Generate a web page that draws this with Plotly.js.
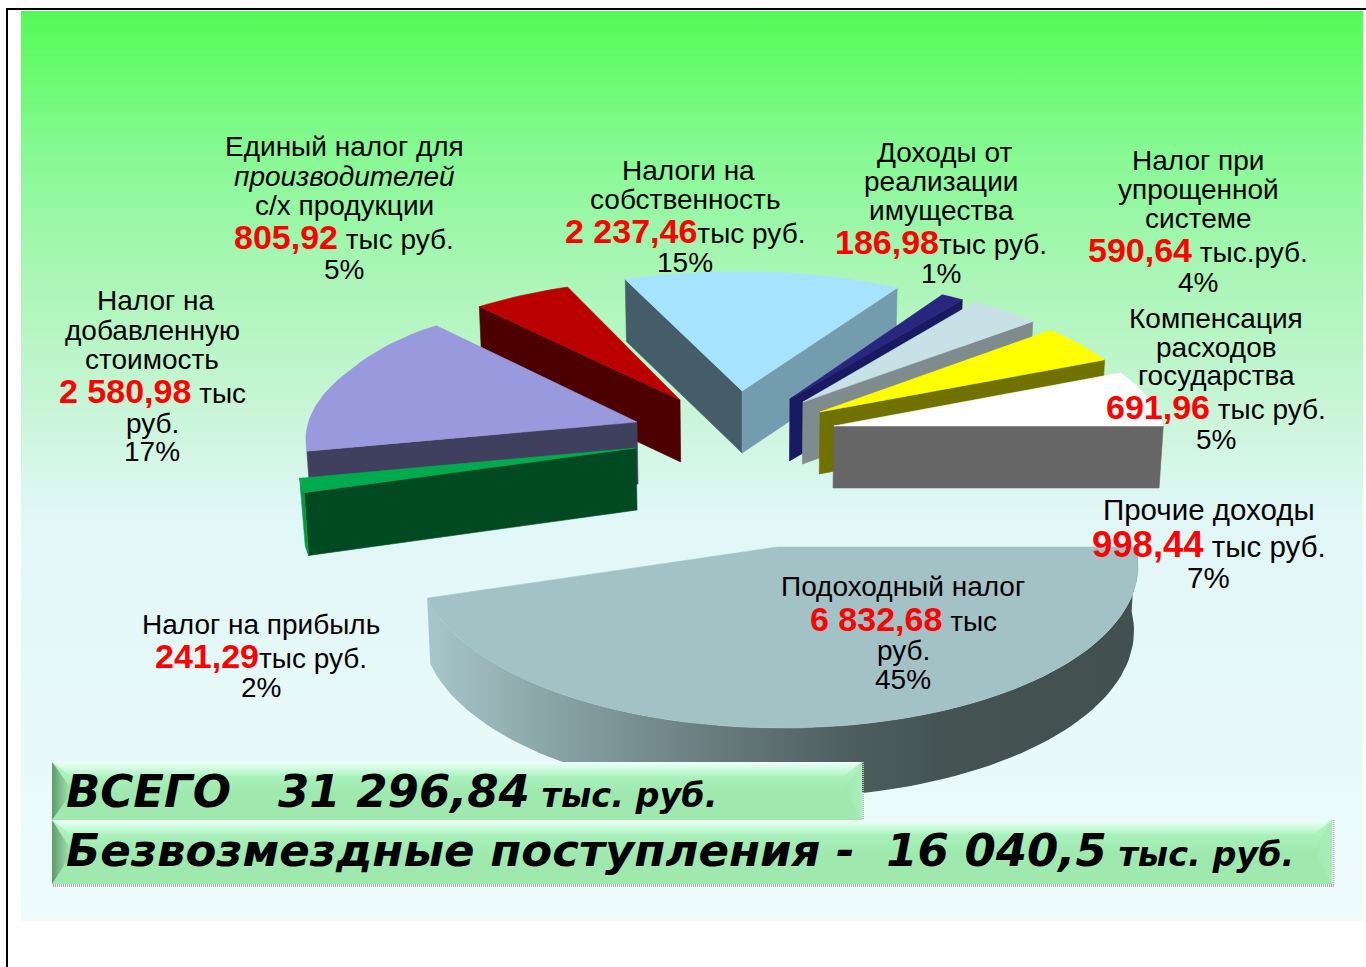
<!DOCTYPE html>
<html><head><meta charset="utf-8">
<script src="https://cdn.plot.ly/plotly-3.0.1.min.js"></script>
<style>html,body{margin:0;padding:0;background:#fff;overflow:hidden}#c{width:1366px;height:967px}</style>
</head><body><div id="c"></div>
<script>
// ---- data (thousand roubles), in pie order ----
const categories = ["Подоходный налог","Налог на прибыль","Налог на добавленную стоимость","Единый налог для производителей с/х продукции","Налоги на собственность","Доходы от реализации имущества","Налог при упрощенной системе","Компенсация расходов государства","Прочие доходы"];
const values = [6832.68,241.29,2580.98,805.92,2237.46,186.98,590.64,691.96,998.44];
const totalLine = "31 296,84";
const grantsLine = "16 040,5";

// ---- styles per slice ----
const topColors  = ["#A3C2C6","#00AB50","#9999DD","#BB0000","#A6E3FF","#27277F","#C8E1E6","#FFFF00","#FFFFFF"];
const startWall  = [null,"#004A22","#3F3F5E","#4D0000","#455D69",null,null,null,null];
const endWall    = [null,null,null,null,"#739CAE","#1A1A60","#7F8C8E","#717100","#666666"];
const rimWall    = [true,true,false,false,false,false,false,false,false];
const rimColors  = [null,"#00994A"];
const pullX      = [0.092,-0.326,-0.329,-0.201,-0.009,0.139,0.179,0.230,0.270];
const pullY      = [0.549,-0.105,-0.292,-0.456,-0.524,-0.463,-0.440,-0.366,-0.263];
const drawOrder  = [4,3,2,1,5,6,7,8,0];
// ---- projection ----
const CX=745, CY=463, AX=338, BY=144.6, K=0.1, WALL=62;
function proj(X,Y){
  const s=1/(1-K*Y);
  const skew=8*Math.max(0,Math.min(1,(-Y-0.7)/0.3))*Math.max(0,Math.min(1,-X/0.3));
  const p=[CX+AX*X*s-skew,CY+BY*Y*s];p.s=s;return p;
}
function low(p){return [CX+(p[0]-CX)*0.99,p[1]+WALL*(1+0.65*Math.max(0,(p.s||1)-1))];}

const traces=[];
function poly(pts,color,grad){
  const t={type:'scatter',mode:'lines',x:pts.map(p=>p[0]).concat([pts[0][0]]),y:pts.map(p=>p[1]).concat([pts[0][1]]),
    fill:'toself',fillcolor:color||'rgba(0,0,0,0)',line:{width:grad?0:0.6,color:color||'rgba(0,0,0,0)'},hoverinfo:'skip',showlegend:false};
  if(grad)t.fillgradient=grad;
  traces.push(t);
}
// ---- page background ----
poly([[21,11],[1363,11],[1363,921],[21,921]],null,{type:'vertical',start:11,stop:921,
  colorscale:[[0,'#52FA58'],[0.06,'#68FB6C'],[0.15,'#85F992'],[0.29,'#AAF6B6'],[0.42,'#C5F5D2'],[0.55,'#E0F7F6'],[1,'#EFFBFC']]});

// ---- pie ----
const total=values.reduce((a,b)=>a+b,0);
const starts=[];let acc=0;values.forEach(v=>{starts.push(acc/total*360);acc+=v;});
function arc(i){
  const a0=starts[i],a1=a0+values[i]/total*360,n=Math.max(2,Math.ceil((a1-a0)/2)),pts=[];
  for(let j=0;j<=n;j++){const a=(a0+(a1-a0)*j/n)*Math.PI/180;pts.push(proj(pullX[i]+Math.cos(a),pullY[i]+Math.sin(a)));}
  return pts;
}
drawOrder.forEach(i=>{
  const rim=arc(i),apex=proj(pullX[i],pullY[i]);
  const first=rim[0],last=rim[rim.length-1];
  if(startWall[i])poly([apex,first,low(first),low(apex)],startWall[i]);
  if(endWall[i])poly([apex,last,low(last),low(apex)],endWall[i]);
  if(rimWall[i]){
    const lows=rim.map(low).reverse();
    if(i===0)poly(rim.concat(lows),null,{type:'horizontal',start:425,stop:1140,
      colorscale:[[0,'#A9C6CA'],[0.2,'#85A0A3'],[0.42,'#66797B'],[0.6,'#4D5D5E'],[0.72,'#455353'],[1,'#435050']]});
    else poly(rim.concat(lows),rimColors[i]);
  }
  poly([apex].concat(rim),topColors[i]);
});

// ---- bevelled panels ----
function panel(x0,y0,x1,y1){
  const bx=18,by=14,ym=(y0+y1)/2;
  poly([[x0,y0],[x1,y0],[x1,y1],[x0,y1]],null,{type:'vertical',start:y0+by-2,stop:y1,colorscale:[[0,'#ABF2BD'],[0.4,'#9FE9AF'],[1,'#9EE9AE']]});
  poly([[x0,y0],[x1,y0],[x1-bx,y0+by],[x0+bx,y0+by]],null,{type:'vertical',start:y0,stop:y0+by,colorscale:[[0,'#F0FFF8'],[1,'#B0F6C4']]});
  poly([[x0,y0],[x0+bx,ym-4],[x0+bx,ym+4],[x0,y1]],null,{type:'horizontal',start:x0,stop:x0+bx,colorscale:[[0,'#5F9A6C'],[1,'#A0E6B0']]});
  poly([[x1,y0],[x1-bx,ym-2],[x1,y1]],null,{type:'horizontal',start:x1-bx,stop:x1,colorscale:[[0,'#9FE9AF'],[1,'#AAEEBB']]});
}
panel(52,762,862,820);
panel(52,820,1332,884);

// ---- labels: one entry per text line ----
const RED='#FF0000';
const anns=[];
function addLabel(cx,lines,size,redSize){
  const sz=size||28,rs=redSize||34;
  lines.forEach(l=>{
    const txt=l.length>3?`<i>${l[1]}</i>`:(l[2]===undefined?l[1]:`<b style="color:${RED}"><span style="font-size:${rs}px;color:${RED}">${l[1]}</span></b>${l[2]}`);
    anns.push({x:cx,y:l[0]-0.8,xref:'x',yref:'y',text:txt,showarrow:false,xanchor:'center',yanchor:'middle',font:{family:'"Liberation Sans",Arial,sans-serif',size:sz,color:'#000'}});
  });
}
addLabel(344,[[147,"Единый налог для"],[177,"производителей",null,1],[206,"с/х продукции"],[238,"805,92"," тыс руб."],[270,"5%"]]);
addLabel(688,[[171,"Налоги на"]]);
addLabel(685,[[200,"собственность"],[232,"2 237,46","тыс руб."],[263,"15%"]]);
addLabel(944,[[153,"Доходы от"]]);
addLabel(941,[[182,"реализации"],[211,"имущества"],[243,"186,98","тыс руб."],[274,"1%"]]);
addLabel(1198,[[161,"Налог при"],[190,"упрощенной"],[219,"системе"],[251,"590,64"," тыс.руб."],[283,"4%"]]);
addLabel(1216,[[319,"Компенсация"],[348,"расходов"],[376,"государства"],[408,"691,96"," тыс руб."],[440,"5%"]]);
addLabel(1208.5,[[510,"Прочие доходы"],[545,"998,44"," тыс руб."],[578,"7%"]],29.5,36.5);
addLabel(903,[[587,"Подоходный налог"],[620,"6 832,68"," тыс"],[651,"руб."],[680,"45%"]]);
addLabel(261,[[625,"Налог на прибыль"],[657,"241,29","тыс руб."],[688,"2%"]]);
addLabel(155,[[301,"Налог на"]]);
addLabel(152,[[331,"добавленную"],[360,"стоимость"],[392,"2 580,98"," тыс"],[424,"руб."],[452,"17%"]]);
const NB='\u00a0';
function big(x,y,t,u){anns.push({x,y,xref:'x',yref:'y',xanchor:'left',yanchor:'middle',showarrow:false,
  text:`<b><i>${t}<span style="font-size:33.5px">${NB}${u}</span></i></b>`,font:{family:'"DejaVu Sans",Verdana,sans-serif',size:45,color:'#000'}});}
big(64,791,`ВСЕГО${NB}${NB}${NB}${totalLine.replace(/ /g,NB)}`,`тыс.${NB}руб.`);
big(64,850,`Безвозмездные${NB}поступления${NB}-${NB}${NB}${grantsLine.replace(/ /g,NB)}`,`тыс.${NB}руб.`);

const shapes=[
 {type:'line',xref:'x',yref:'y',x0:7,x1:7,y0:9,y1:967,line:{color:'#000',width:2}},
 {type:'line',xref:'x',yref:'y',x0:6,x1:1366,y0:9,y1:9,line:{color:'#000',width:2}},
 {type:'line',xref:'x',yref:'y',x0:53,x1:1334,y0:885.5,y1:885.5,line:{color:'#AAAAAA',width:3,dash:'1px,1px'}},
 {type:'line',xref:'x',yref:'y',x0:1333.5,x1:1333.5,y0:820,y1:885,line:{color:'#BBBBBB',width:2,dash:'1px,1px'}},
 {type:'line',xref:'x',yref:'y',x0:863,x1:863,y0:762,y1:820,line:{color:'#BBBBBB',width:2,dash:'1px,1px'}}
];
const layout={width:1366,height:967,margin:{l:0,r:0,t:0,b:0},paper_bgcolor:'#fff',plot_bgcolor:'rgba(0,0,0,0)',showlegend:false,
 xaxis:{range:[0,1366],visible:false,fixedrange:true},yaxis:{range:[967,0],visible:false,fixedrange:true},annotations:anns,shapes:shapes};
Plotly.newPlot('c',traces,layout,{displayModeBar:false,staticPlot:true});
</script></body></html>
